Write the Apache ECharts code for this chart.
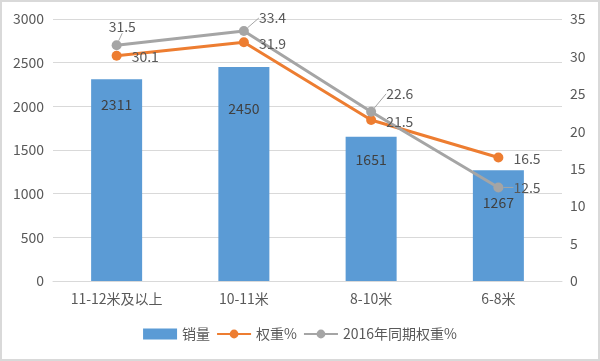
<!DOCTYPE html>
<html><head><meta charset="utf-8">
<script src="https://cdn.jsdelivr.net/npm/echarts@6/dist/echarts.min.js"></script>
<style>
html,body{margin:0;padding:0;background:#fff;}
#c{width:600px;height:361px;box-sizing:border-box;border:2px solid #d9d9d9;}
</style></head>
<body><div id="c"></div>
<script>
const categories = ['11-12米及以上','10-11米','8-10米','6-8米'];
const sales = [2311, 2450, 1651, 1267];
const weight = [30.1, 31.9, 21.5, 16.5];
const weight2016 = [31.5, 33.4, 22.6, 12.5];
const leftTicks = {min:0, max:3000, interval:500};
const rightTicks = {min:0, max:35, interval:5};

const txt = '#595959';
const font = 'Noto Sans CJK SC';
const chart = echarts.init(document.getElementById('c'));
const grayOffsets = [[-23,-19],[0,-13],[0,-18],[0,0]];
const orangeOffsets = [[0,1],[0,1],[0,2],[0,1]];
const barDist = [19, 35, 16, 25];
chart.setOption({
  animation:false,
  textStyle:{fontFamily:font, color:txt},
  grid:{left:51, right:36, top:17, bottom:78},
  legend:{
    bottom:13, left:'center',
    itemWidth:34, itemHeight:11, itemGap:6,
    textStyle:{fontSize:14, color:txt, fontFamily:font},
    data:[{name:'销量', icon:'rect'},{name:'权重%'},{name:'2016年同期权重%'}]
  },
  xAxis:{type:'category', data:categories,
    axisLine:{lineStyle:{color:'#d9d9d9', width:1}}, axisTick:{show:false},
    axisLabel:{color:txt, fontSize:14, margin:11}},
  yAxis:[
    {type:'value', min:leftTicks.min, max:leftTicks.max, interval:leftTicks.interval,
     axisLine:{show:false}, axisTick:{show:false},
     axisLabel:{color:txt, fontSize:14, margin:9, formatter:(v)=>String(v)},
     splitLine:{lineStyle:{color:'#d9d9d9', width:1}}},
    {type:'value', min:rightTicks.min, max:rightTicks.max, interval:rightTicks.interval,
     axisLine:{show:false}, axisTick:{show:false},
     axisLabel:{color:txt, fontSize:14, margin:8},
     splitLine:{show:false}}
  ],
  series:[
    {name:'销量', type:'bar', data:sales.map((v,i)=>({value:v, label:{distance:barDist[i]}})), barWidth:51,
     itemStyle:{color:'#5B9BD5'},
     label:{show:true, position:'insideTop', color:'#404040', fontSize:14}},
    {name:'权重%', type:'line', yAxisIndex:1, data:weight,
     symbol:'circle', symbolSize:10, lineStyle:{width:3, color:'#ED7D31'},
     itemStyle:{color:'#ED7D31'},
     label:{show:true, position:'right', distance:10, color:txt, fontSize:14},
     labelLayout:(p)=>({dx:orangeOffsets[p.dataIndex][0], dy:orangeOffsets[p.dataIndex][1]})},
    {name:'2016年同期权重%', type:'line', yAxisIndex:1, data:weight2016,
     symbol:'circle', symbolSize:10, lineStyle:{width:3, color:'#A5A5A5'},
     itemStyle:{color:'#A5A5A5'},
     label:{show:true, position:'right', distance:10, color:txt, fontSize:14},
     labelLine:{show:true, lineStyle:{color:'#A5A5A5', width:1}},
     labelLayout:(p)=>({dx:grayOffsets[p.dataIndex][0], dy:grayOffsets[p.dataIndex][1]})}
  ]
});
</script></body></html>
